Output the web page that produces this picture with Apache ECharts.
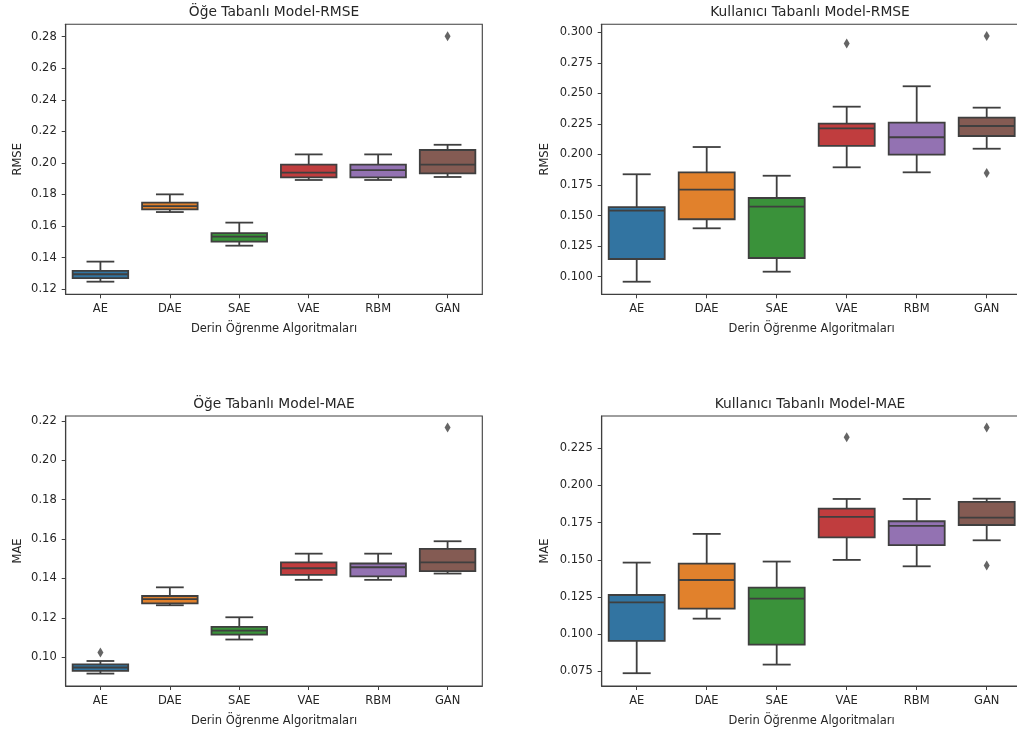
<!DOCTYPE html>
<html><head><meta charset="utf-8">
<script src="https://cdn.jsdelivr.net/npm/echarts@6/dist/echarts.min.js"></script>
<style>html,body{margin:0;padding:0;background:#fff}#c{width:1017px;height:735px}</style>
</head><body><div id="c"></div>
<script>
const categories = ['AE','DAE','SAE','VAE','RBM','GAN'];
// each row: [lower whisker, Q1, median, Q3, upper whisker]
const itemRmse = [
 [0.1248,0.1270,0.1295,0.1316,0.1375],
 [0.1689,0.1706,0.1727,0.1748,0.1801],
 [0.1476,0.1501,0.1533,0.1556,0.1622],
 [0.1892,0.1909,0.1938,0.1989,0.2054],
 [0.1892,0.1909,0.1955,0.1989,0.2054],
 [0.1911,0.1934,0.1989,0.2082,0.2115]
];
const itemRmseOutliers = [[5,0.2803]];
const userRmse = [
 [0.0959,0.1145,0.1540,0.1570,0.1838],
 [0.1396,0.1470,0.1712,0.1854,0.2061],
 [0.1041,0.1153,0.1573,0.1644,0.1826],
 [0.1895,0.2070,0.2214,0.2252,0.2391],
 [0.1854,0.1998,0.2141,0.2260,0.2558],
 [0.2047,0.2151,0.2233,0.2301,0.2383]
];
const userRmseOutliers = [[3,0.2907],[5,0.2970],[5,0.1849]];
const itemMae = [
 [0.0917,0.0931,0.0948,0.0964,0.0981],
 [0.1264,0.1274,0.1295,0.1311,0.1355],
 [0.1090,0.1115,0.1135,0.1154,0.1203],
 [0.1393,0.1418,0.1452,0.1482,0.1526],
 [0.1393,0.1411,0.1457,0.1476,0.1526],
 [0.1425,0.1437,0.1482,0.1550,0.1589]
];
const itemMaeOutliers = [[0,0.1024],[5,0.2166]];
const userMae = [
 [0.0737,0.0954,0.1214,0.1263,0.1481],
 [0.1104,0.1172,0.1364,0.1474,0.1674],
 [0.0795,0.0929,0.1239,0.1313,0.1488],
 [0.1499,0.1651,0.1788,0.1844,0.1909],
 [0.1456,0.1598,0.1728,0.1759,0.1909],
 [0.1631,0.1734,0.1784,0.1889,0.1911]
];
const userMaeOutliers = [[3,0.2324],[5,0.2389],[5,0.1461]];

const ticksItemRmse = [0.12,0.14,0.16,0.18,0.20,0.22,0.24,0.26,0.28];
const ticksUserRmse = [0.100,0.125,0.150,0.175,0.200,0.225,0.250,0.275,0.300];
const ticksItemMae = [0.10,0.12,0.14,0.16,0.18,0.20,0.22];
const ticksUserMae = [0.075,0.100,0.125,0.150,0.175,0.200,0.225];

const titles = ['Öğe Tabanlı Model-RMSE','Kullanıcı Tabanlı Model-RMSE','Öğe Tabanlı Model-MAE','Kullanıcı Tabanlı Model-MAE'];
const yNames = ['RMSE','RMSE','MAE','MAE'];
const xName = 'Derin Öğrenme Algoritmaları';

const palette = ['#3274a1','#e1812c','#3a923a','#c03d3e','#9372b2','#845b53'];
const lineColor = '#3f3f3f';
const textColor = '#262626';
const FONT = 'DejaVu Sans';

const panels = [
  {data:itemRmse, out:itemRmseOutliers, ticks:ticksItemRmse, dec:2, min:0.1168, max:0.2878, left:65.7, top:24.3, width:416.6},
  {data:userRmse, out:userRmseOutliers, ticks:ticksUserRmse, dec:3, min:0.0856, max:0.3065, left:601.7, top:24.3, width:420},
  {data:itemMae, out:itemMaeOutliers, ticks:ticksItemMae, dec:2, min:0.0854, max:0.2225, left:65.7, top:416, width:416.6},
  {data:userMae, out:userMaeOutliers, ticks:ticksUserMae, dec:3, min:0.0651, max:0.2467, left:601.7, top:416, width:420}
];
const H = 270;

function renderBox(params, api){
  const i = api.value(0);
  const lo = api.value(1), q1 = api.value(2), md = api.value(3), q3 = api.value(4), hi = api.value(5);
  const x = api.coord([i, md])[0];
  const band = api.size([1,0])[0];
  const bw = band*0.8, cw = band*0.4;
  const y = v => api.coord([i, v])[1];
  const ls = {stroke: lineColor, lineWidth: 1.8};
  const line = (x1,y1,x2,y2) => ({type:'line', shape:{x1,y1,x2,y2}, style: ls});
  return {type:'group', children:[
    line(x, y(q1), x, y(lo)),
    line(x, y(q3), x, y(hi)),
    line(x-cw/2, y(lo), x+cw/2, y(lo)),
    line(x-cw/2, y(hi), x+cw/2, y(hi)),
    {type:'rect', shape:{x:x-bw/2, y:y(q3), width:bw, height:y(q1)-y(q3)}, style:{fill: palette[i], stroke: lineColor, lineWidth:1.8}},
    line(x-bw/2, y(md), x+bw/2, y(md))
  ]};
}

const option = {
  animation:false,
  backgroundColor:'#fff',
  textStyle:{fontFamily:FONT},
  title: panels.map((p,k)=>({
    text: titles[k], left: p.left + 416.6/2, top: p.top - 19, textAlign:'center', padding:0,
    textStyle:{fontFamily:FONT, fontSize:13.8, fontWeight:'normal', color:textColor}
  })),
  grid: panels.map(p=>({left:p.left, top:p.top, width:p.width, height:H, show:true, borderColor:lineColor, borderWidth:1.1, backgroundColor:'transparent', containLabel:false, outerBoundsMode:'none'})),
  xAxis: panels.map((p,k)=>({
    type:'category', gridIndex:k, data:categories, boundaryGap:true,
    name:xName, nameLocation:'middle', nameGap:29,
    nameTextStyle:{fontFamily:FONT, fontSize:11.5, color:textColor},
    axisLine:{show:true, lineStyle:{color:lineColor, width:1.1}},
    axisTick:{show:true, alignWithLabel:true, length:4, lineStyle:{color:lineColor, width:1}},
    axisLabel:{fontFamily:FONT, fontSize:11.5, color:textColor, margin:9},
    splitLine:{show:false}
  })),
  yAxis: panels.map((p,k)=>({
    type:'value', gridIndex:k, min:p.min, max:p.max,
    name:yNames[k], nameLocation:'middle', nameGap:k%2===0?42:51, nameRotate:90,
    nameTextStyle:{fontFamily:FONT, fontSize:11.5, color:textColor},
    axisLine:{show:true, lineStyle:{color:lineColor, width:1.1}},
    axisTick:{show:true, length:4, customValues:p.ticks, lineStyle:{color:lineColor, width:1}},
    axisLabel:{fontFamily:FONT, fontSize:11.5, color:textColor, margin:9, customValues:p.ticks, formatter:v=>Number(v).toFixed(p.dec)},
    splitLine:{show:false}
  })),
  series: [].concat(...panels.map((p,k)=>[
    {type:'custom', xAxisIndex:k, yAxisIndex:k, renderItem:renderBox, encode:{x:0, y:[1,2,3,4,5]},
     data: p.data.map((r,i)=>[i].concat(r)), silent:true},
    {type:'scatter', xAxisIndex:k, yAxisIndex:k, symbol:'diamond', symbolSize:[6,10],
     itemStyle:{color:lineColor}, data:p.out, silent:true}
  ]))
};
const chart = echarts.init(document.getElementById('c'), null, {renderer:'canvas'});
chart.setOption(option);
</script></body></html>
